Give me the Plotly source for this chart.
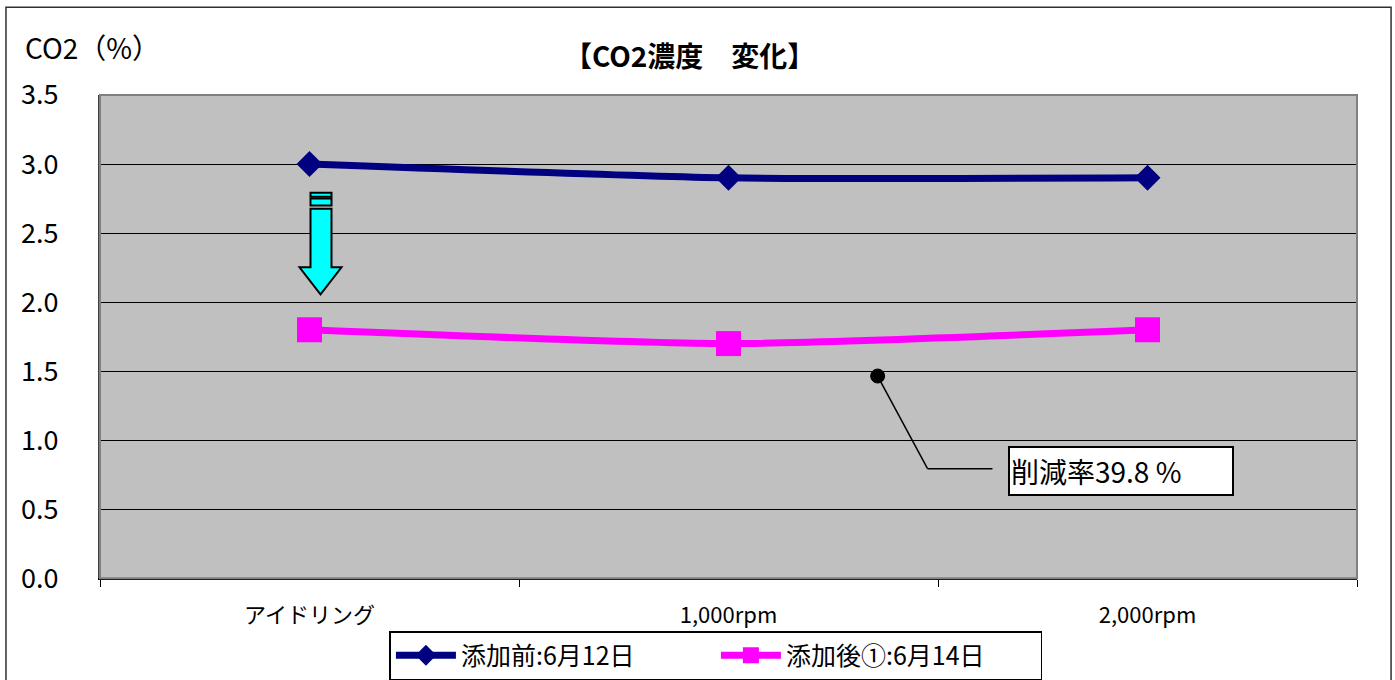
import plotly.graph_objects as go

categories = ["アイドリング", "1,000rpm", "2,000rpm"]
before_values = [3.0, 2.9, 2.9]
after_values = [1.8, 1.7, 1.8]
before_name = "添加前:6月12日"
after_name = "添加後①:6月14日"
y_ticks = [0.0, 0.5, 1.0, 1.5, 2.0, 2.5, 3.0, 3.5]
y_tick_labels = ["0.0", "0.5", "1.0", "1.5", "2.0", "2.5", "3.0", "3.5"]
title_text = "<b>【CO2濃度　変化】</b>"
y_title = "CO2（%）"
callout_text = "削減率39.8 %"

FONT = "Noto Sans CJK JP"

fig = go.Figure()
fig.add_trace(go.Scatter(
    x=categories, y=before_values, name=before_name, mode="lines+markers",
    line=dict(color="#000080", width=7, shape="spline", smoothing=0.6),
    marker=dict(symbol="diamond", size=20, color="#000080"),
))
fig.add_trace(go.Scatter(
    x=categories, y=after_values, name=after_name, mode="lines+markers",
    line=dict(color="#FF00FF", width=7, shape="spline", smoothing=0.6),
    marker=dict(symbol="square", size=25, color="#FF00FF"),
))

shapes = []
# plot area frame
shapes.append(dict(type="rect", xref="x domain", yref="y domain", x0=0, x1=1, y0=0, y1=1,
                   line=dict(color="#808080", width=2), layer="above"))
# outer figure frame
shapes.append(dict(type="rect", xref="paper", yref="paper",
                   x0=-0.0748, x1=1.0271, y0=-0.1, y1=1.1504,
                   line=dict(color="#303030", width=1.5), layer="below"))

# down arrow (decoration)
ax = 0.0
sl, sr = ax + 0.0024, ax + 0.0525
hl, hr, tip = ax - 0.0239, ax + 0.0764, ax + 0.0263
arrow_path = (f"M {sl},2.677 L {sr},2.677 L {sr},2.252 L {hr},2.252 L {tip},2.057 "
              f"L {hl},2.252 L {sl},2.252 Z")
shapes.append(dict(type="path", path=arrow_path, fillcolor="#00FFFF",
                   line=dict(color="#000000", width=2), layer="above"))
shapes.append(dict(type="rect", x0=sl, x1=sr, y0=2.699, y1=2.750, fillcolor="#00FFFF",
                   line=dict(color="#000000", width=2), layer="above"))
shapes.append(dict(type="rect", x0=sl, x1=sr, y0=2.764, y1=2.793, fillcolor="#00FFFF",
                   line=dict(color="#000000", width=2), layer="above"))

# callout leader
shapes.append(dict(type="line", x0=1.356, y0=1.465, x1=1.475, y1=0.794,
                   line=dict(color="#000000", width=1.5)))
shapes.append(dict(type="line", x0=1.475, y0=0.794, x1=1.630, y1=0.794,
                   line=dict(color="#000000", width=1.5)))
shapes.append(dict(type="circle", xsizemode="pixel", ysizemode="pixel",
                   xanchor=1.356, yanchor=1.465, x0=-7, x1=7, y0=-7, y1=7,
                   fillcolor="#000000", line=dict(color="#000000", width=1)))

annotations = [
    dict(text=title_text, xref="x domain", yref="y domain", x=0.469, y=1.082,
         showarrow=False, font=dict(family=FONT, size=28, color="#000000"),
         xanchor="center", yanchor="middle"),
    dict(text=y_title, xref="x domain", yref="y domain", x=-0.061, y=1.100,
         showarrow=False, font=dict(family=FONT, size=28, color="#000000"),
         xanchor="left", yanchor="middle"),
    dict(text=callout_text, x=1.937, y=0.779, showarrow=False,
         font=dict(family=FONT, size=28, color="#000000"),
         bgcolor="#FFFFFF", bordercolor="#000000", borderwidth=2,
         width=220, height=44, align="left", xanchor="center", yanchor="middle"),
]

fig.update_layout(
    width=1395, height=680,
    margin=dict(l=100, r=38, t=95, b=0),
    paper_bgcolor="#FFFFFF", plot_bgcolor="#C0C0C0",
    font=dict(family=FONT, color="#000000"),
    showlegend=True,
    legend=dict(orientation="h", x=0.49, y=0.0803, xanchor="center", yanchor="top",
                bgcolor="#FFFFFF", bordercolor="#000000", borderwidth=1.5,
                font=dict(family=FONT, size=25, color="#000000"),
                itemwidth=60, entrywidthmode="pixels", entrywidth=250),
    shapes=shapes, annotations=annotations,
    xaxis=dict(type="category", range=[-0.5, 2.5], showgrid=False,
               showline=True, linecolor="#000000", linewidth=2,
               ticks="outside", tickson="boundaries", ticklen=7, tickcolor="#000000",
               tickfont=dict(family=FONT, size=22, color="#000000"), ticklabelstandoff=16,
               automargin=False),
    yaxis=dict(range=[0, 3.5], tickvals=y_ticks, ticktext=y_tick_labels,
               domain=[0.17094, 1.0],
               showgrid=True, gridcolor="#000000", gridwidth=1.2,
               showline=True, linecolor="#404040", linewidth=2, zeroline=False,
               ticks="", tickfont=dict(family=FONT, size=27, color="#000000"),
               ticklabelstandoff=34, automargin=False),
)

fig.write_html("out.html", config={"displayModeBar": False},
               post_script="document.body.style.margin='0px';")
